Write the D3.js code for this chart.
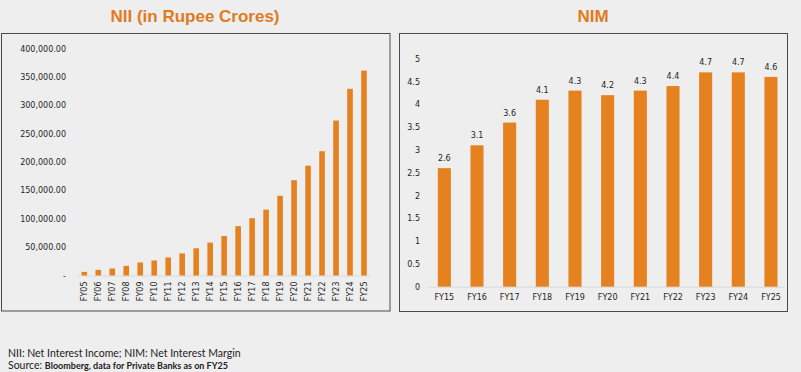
<!DOCTYPE html>
<html>
<head>
<meta charset="utf-8">
<script src="https://cdn.jsdelivr.net/npm/d3@7.9.0/dist/d3.min.js"></script>
<style>
  html, body { margin: 0; padding: 0; background: #eeeeee; }
  svg { display: block; }
  .tick text { font-family: "DejaVu Sans", sans-serif; font-size: 8px; fill: #1e1e1e; }
</style>
</head>
<body>
<div id="chart"></div>
<script>
const niiYears = ['FY05','FY06','FY07','FY08','FY09','FY10','FY11','FY12','FY13','FY14','FY15',
  'FY16','FY17','FY18','FY19','FY20','FY21','FY22','FY23','FY24','FY25'];
const niiValues = [6400, 9900, 12400, 17000, 23000, 26500, 31800, 38900, 48000, 58000, 69500,
  87000, 101000, 116000, 140500, 168000, 193500, 219000, 273000, 329000, 361000];
const niiTicks = [0, 50000, 100000, 150000, 200000, 250000, 300000, 350000, 400000];

const nimYears = ['FY15','FY16','FY17','FY18','FY19','FY20','FY21','FY22','FY23','FY24','FY25'];
const nimValues = [2.6, 3.1, 3.6, 4.1, 4.3, 4.2, 4.3, 4.4, 4.7, 4.7, 4.6];
const nimTicks = [0, 0.5, 1, 1.5, 2, 2.5, 3, 3.5, 4, 4.5, 5];

const width = 801, height = 372;
const barColor = '#e5821f';
const titleColor = '#e07b22';

const svg = d3.select('#chart').append('svg')
  .attr('width', width)
  .attr('height', height);

// panel frames
svg.append('rect').attr('x', 1.5).attr('y', 33.5).attr('width', 388.5).attr('height', 277.5)
  .attr('fill', '#eeeeee').attr('stroke', '#4a4a4a').attr('stroke-width', 1);
svg.append('rect').attr('x', 399.5).attr('y', 33.5).attr('width', 388).attr('height', 278)
  .attr('fill', '#eeeeee').attr('stroke', '#4a4a4a').attr('stroke-width', 1);

// titles
svg.append('text').attr('x', 195).attr('y', 22).attr('text-anchor', 'middle')
  .style('font-family', '"Liberation Sans", Arial, sans-serif')
  .style('font-size', '17px').style('font-weight', 'bold')
  .attr('fill', titleColor).text('NII (in Rupee Crores)');
svg.append('text').attr('x', 593).attr('y', 22).attr('text-anchor', 'middle')
  .style('font-family', '"Liberation Sans", Arial, sans-serif')
  .style('font-size', '17px').style('font-weight', 'bold')
  .attr('fill', titleColor).text('NIM');

// ---- NII chart ----
const x1 = d3.scaleBand().domain(niiYears).range([77.3, 371]).paddingInner(0.6).paddingOuter(0.3);
const y1 = d3.scaleLinear().domain([0, 400000]).range([275.5, 48.5]);

svg.append('g')
  .attr('transform', 'translate(66,0)')
  .call(d3.axisLeft(y1).tickValues(niiTicks).tickSize(0).tickPadding(0)
    .tickFormat((d) => d === 0 ? '-' : d3.format(',.2f')(d)))
  .call((g) => g.select('.domain').remove());

svg.append('line').attr('x1', 77).attr('x2', 370).attr('y1', y1(0) + 0.5).attr('y2', y1(0) + 0.5)
  .attr('stroke', '#d9d9d9').attr('stroke-width', 1);

svg.append('g').selectAll('rect')
  .data(niiValues)
  .join('rect')
  .attr('x', (d, i) => x1(niiYears[i]))
  .attr('y', (d) => y1(d))
  .attr('width', x1.bandwidth())
  .attr('height', (d) => y1(0) - y1(d))
  .attr('fill', barColor);

svg.append('g')
  .attr('transform', `translate(0,${y1(0)})`)
  .call(d3.axisBottom(x1).tickSize(0).tickPadding(0))
  .call((g) => g.select('.domain').remove())
  .selectAll('text')
  .attr('transform', 'rotate(-90)')
  .attr('text-anchor', 'end')
  .attr('x', -6)
  .attr('y', 0)
  .attr('dy', '0.35em');

// ---- NIM chart ----
const x2 = d3.scaleBand().domain(nimYears).range([428, 787.3]).paddingInner(0.6).paddingOuter(0.3);
const y2 = d3.scaleLinear().domain([0, 5]).range([286.7, 58.7]);

svg.append('g')
  .attr('transform', 'translate(420,0)')
  .call(d3.axisLeft(y2).tickValues(nimTicks).tickSize(0).tickPadding(0)
    .tickFormat(d3.format('')))
  .call((g) => g.select('.domain').remove());

svg.append('line').attr('x1', 428).attr('x2', 785).attr('y1', y2(0) + 0.5).attr('y2', y2(0) + 0.5)
  .attr('stroke', '#d9d9d9').attr('stroke-width', 1);

svg.append('g').selectAll('rect')
  .data(nimValues)
  .join('rect')
  .attr('x', (d, i) => x2(nimYears[i]))
  .attr('y', (d) => y2(d))
  .attr('width', x2.bandwidth())
  .attr('height', (d) => y2(0) - y2(d))
  .attr('fill', barColor);

svg.append('g').selectAll('text')
  .data(nimValues)
  .join('text')
  .attr('x', (d, i) => x2(nimYears[i]) + x2.bandwidth() / 2)
  .attr('y', (d) => y2(d) - 7)
  .attr('text-anchor', 'middle')
  .style('font-family', '"DejaVu Sans", sans-serif')
  .style('font-size', '8px')
  .attr('fill', '#1e1e1e')
  .text((d) => d);

svg.append('g')
  .attr('transform', `translate(0,${y2(0)})`)
  .call(d3.axisBottom(x2).tickSize(0).tickPadding(8))
  .call((g) => g.select('.domain').remove());

// footnotes
svg.append('text').attr('x', 8).attr('y', 357)
  .style('font-family', 'Lato, sans-serif').style('font-size', '10.5px')
  .attr('fill', '#222').text('NII: Net Interest Income; NIM: Net Interest Margin');
const src = svg.append('text').attr('x', 8).attr('y', 369)
  .style('font-family', 'Lato, sans-serif').attr('fill', '#222');
src.append('tspan').style('font-size', '10.5px').text('Source: ');
src.append('tspan').style('font-size', '9px').style('font-weight', 'bold')
  .text('Bloomberg, data for Private Banks as on FY25');
</script>
</body>
</html>
